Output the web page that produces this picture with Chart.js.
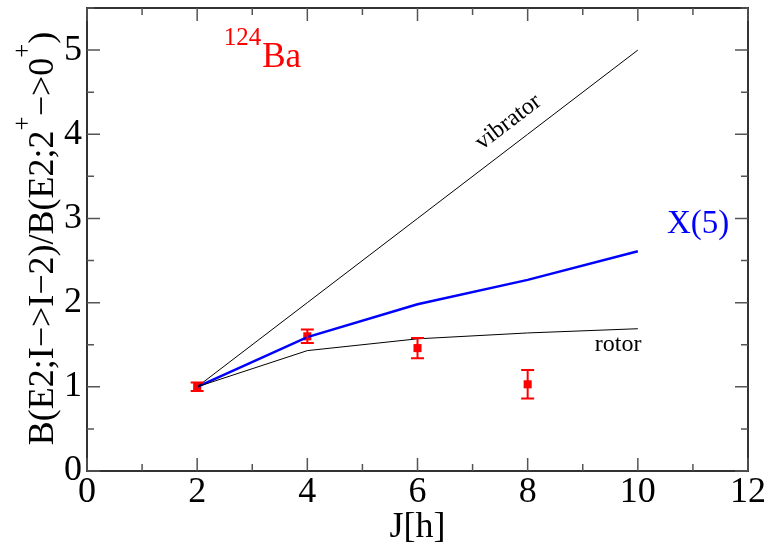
<!DOCTYPE html>
<html>
<head>
<meta charset="UTF-8">
<title>124Ba B(E2) ratios</title>
<script src="https://cdn.jsdelivr.net/npm/chart.js"></script>
<style>
  html, body { margin: 0; padding: 0; background: #fff; }
  #wrap { width: 769px; height: 545px; }
</style>
</head>
<body>
<div id="wrap"><canvas id="c"></canvas></div>
<script>
// spin values
const spins = [2, 4, 6, 8, 10];
// model predictions
const vibrator = [1, 2, 3, 4, 5];
const rotor = [1, 1.43, 1.57, 1.64, 1.69];
const x5 = [1, 1.59, 1.98, 2.27, 2.61];
// experiment for 124Ba
const expJ = [2, 4, 6, 8];
const expVal = [1.00, 1.60, 1.46, 1.03];
const expErr = [0.05, 0.08, 0.12, 0.17];

const xTicks = [0, 2, 4, 6, 8, 10, 12];
const yTicks = [0, 1, 2, 3, 4, 5];

const serif = "'Liberation Serif', serif";
Chart.defaults.font.family = serif;
Chart.defaults.color = '#000';

const pts = (xs, ys) => xs.map((x, i) => ({ x: x, y: ys[i] }));

// frame, inward ticks, error bars and labels
const decor = {
  id: 'decor',
  afterDatasetsDraw(chart) {
    const ctx = chart.ctx;
    const xs = chart.scales.x, ys = chart.scales.y;
    const a = chart.chartArea;
    ctx.save();

    // error bars
    ctx.strokeStyle = '#ff0000';
    ctx.lineWidth = 2;
    expJ.forEach((j, i) => {
      const px = xs.getPixelForValue(j);
      const top = ys.getPixelForValue(expVal[i] + expErr[i]);
      const bot = ys.getPixelForValue(expVal[i] - expErr[i]);
      ctx.beginPath();
      ctx.moveTo(px, top); ctx.lineTo(px, bot);
      ctx.moveTo(px - 6.5, top); ctx.lineTo(px + 6.5, top);
      ctx.moveTo(px - 6.5, bot); ctx.lineTo(px + 6.5, bot);
      ctx.stroke();
    });

    // frame
    ctx.strokeStyle = '#333';
    ctx.lineWidth = 2;
    ctx.strokeRect(a.left, a.top, a.right - a.left, a.bottom - a.top);

    // ticks
    ctx.strokeStyle = '#555';
    ctx.lineWidth = 1.5;
    ctx.beginPath();
    for (let v = 0; v <= 12; v += 1) {
      const px = xs.getPixelForValue(v);
      const len = v % 2 === 0 ? 13 : 7;
      ctx.moveTo(px, a.bottom); ctx.lineTo(px, a.bottom - len);
      ctx.moveTo(px, a.top); ctx.lineTo(px, a.top + len);
    }
    for (let v = 0; v <= 5.5; v += 0.5) {
      const py = ys.getPixelForValue(v);
      const len = v % 1 === 0 ? 13 : 7;
      ctx.moveTo(a.left, py); ctx.lineTo(a.left + len, py);
      ctx.moveTo(a.right, py); ctx.lineTo(a.right - len, py);
    }
    ctx.stroke();

    // 124Ba label
    ctx.fillStyle = '#ff0000';
    ctx.textBaseline = 'alphabetic';
    ctx.textAlign = 'left';
    const bx = xs.getPixelForValue(3.18), by = ys.getPixelForValue(4.8);
    ctx.font = '35px ' + serif;
    ctx.fillText('Ba', bx, by);
    ctx.font = '25px ' + serif;
    ctx.fillText('124', bx - ctx.measureText('124').width - 1, by - 22);

    // X(5) label
    ctx.fillStyle = '#0000ff';
    ctx.font = '33px ' + serif;
    ctx.fillText('X(5)', xs.getPixelForValue(10.53), ys.getPixelForValue(2.83));

    // rotor label
    ctx.fillStyle = '#000';
    ctx.font = '24px ' + serif;
    ctx.fillText('rotor', xs.getPixelForValue(9.22), ys.getPixelForValue(1.42));

    // vibrator label, along its line
    const p0x = xs.getPixelForValue(2), p0y = ys.getPixelForValue(1);
    const p1x = xs.getPixelForValue(10), p1y = ys.getPixelForValue(5);
    const ang = Math.atan2(p1y - p0y, p1x - p0x);
    ctx.save();
    ctx.translate(xs.getPixelForValue(7.17), ys.getPixelForValue(3.81));
    ctx.rotate(ang);
    ctx.font = '24px ' + serif;
    ctx.fillText('vibrator', 0, 0);
    ctx.restore();

    // y axis title with superscripts
    const parts = [
      ['B(E2;I\u2212>I\u22122)/B(E2;2', false],
      ['+', true],
      ['\u2212>0', false],
      ['+', true],
      [')', false]
    ];
    const main = '36px ' + serif, sup = '25px ' + serif;
    let total = 0;
    parts.forEach(p => { ctx.font = p[1] ? sup : main; total += ctx.measureText(p[0]).width; });
    ctx.save();
    ctx.translate(53, 238.5);
    ctx.rotate(-Math.PI / 2);
    let tx = -total / 2;
    parts.forEach(p => {
      ctx.font = p[1] ? sup : main;
      ctx.fillText(p[0], tx, p[1] ? -23 : 0);
      tx += ctx.measureText(p[0]).width;
    });
    ctx.restore();

    // x axis title
    ctx.font = '36px ' + serif;
    ctx.textAlign = 'center';
    ctx.fillText('J[h]', (a.left + a.right) / 2, 537);

    ctx.restore();
  }
};

new Chart(document.getElementById('c'), {
  type: 'scatter',
  data: {
    datasets: [
      { data: pts(spins, vibrator), showLine: true, borderColor: '#000', borderWidth: 1, pointRadius: 0, fill: false },
      { data: pts(spins, rotor), showLine: true, borderColor: '#000', borderWidth: 1, pointRadius: 0, fill: false },
      { data: pts(spins, x5), showLine: true, borderColor: '#0000ff', borderWidth: 2.5, pointRadius: 0, fill: false },
      { data: pts(expJ, expVal), showLine: false, pointStyle: 'rect', pointRadius: 5.7,
        backgroundColor: '#ff0000', borderColor: '#ff0000', borderWidth: 0 }
    ]
  },
  options: {
    responsive: true,
    maintainAspectRatio: false,
    animation: false,
    layout: { padding: { left: 0, right: 21, top: 8, bottom: 0 } },
    plugins: { legend: { display: false }, tooltip: { enabled: false } },
    scales: {
      x: {
        type: 'linear', min: 0, max: 12,
        afterBuildTicks: s => { s.ticks = xTicks.map(v => ({ value: v })); },
        afterFit: s => { s.height = 74; s.paddingLeft = 0; s.paddingRight = 0; },
        grid: { display: false, drawTicks: false },
        border: { display: false },
        ticks: { color: '#000', font: { family: serif, size: 36 }, padding: 0, maxRotation: 0 }
      },
      y: {
        type: 'linear', min: 0, max: 5.5,
        afterBuildTicks: s => { s.ticks = yTicks.map(v => ({ value: v })); },
        afterFit: s => { s.width = 87; s.paddingTop = 0; s.paddingBottom = 0; },
        grid: { display: false, drawTicks: false },
        border: { display: false },
        ticks: { color: '#000', font: { family: serif, size: 36 }, padding: 5 }
      }
    }
  },
  plugins: [decor]
});
</script>
</body>
</html>
